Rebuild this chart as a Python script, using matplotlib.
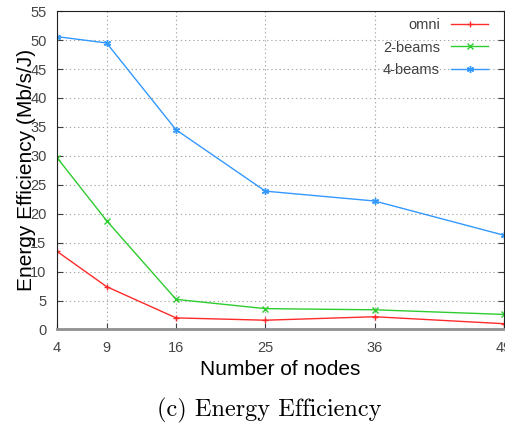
import numpy as np
import matplotlib.pyplot as plt

nodes = [4, 9, 16, 25, 36, 49]
omni = [13.5, 7.4, 2.0, 1.6, 2.2, 1.0]
beams2 = [29.7, 18.8, 5.2, 3.6, 3.4, 2.6]
beams4 = [50.6, 49.5, 34.5, 23.9, 22.2, 16.3]
yticks = np.arange(0, 56, 5)

plt.rcParams['font.family'] = ['Liberation Sans', 'DejaVu Sans']

fig = plt.figure(figsize=(5.06, 4.29), dpi=100)
ax = fig.add_axes([0.1126, 0.232, 0.8825, 0.742])

ax.plot(nodes, omni, color='#ff2a2a', lw=1, marker='+', ms=5, mew=1, label='omni')
ax.plot(nodes, beams2, color='#2ecc2e', lw=1, marker='x', ms=4, mew=1, label='2-beams')
ax.plot(nodes, beams4, color='#3399ff', lw=1, marker=(6, 2, 0), ms=5, mew=1, label='4-beams')

ax.set_xlim(4, 49)
ax.set_ylim(0, 55)
ax.set_xticks(nodes)
ax.set_yticks(yticks)
ax.tick_params(axis='both', labelsize=10.5, labelcolor='#454545', direction='in',
               length=4, color='#404040', right=True)
ax.tick_params(axis='x', pad=8)
ax.tick_params(axis='y', pad=7.5)
ax.grid(True, linestyle=(0, (1.2, 2.5)), color='#a8a8a8', lw=0.8)
for s in ax.spines.values():
    s.set_color('#202020')
ax.spines['bottom'].set_color('#909090')
ax.spines['bottom'].set_linewidth(2)

ax.set_xlabel('Number of nodes', fontsize=15, labelpad=4)
ax.set_ylabel('Energy Efficiency (Mb/s/J)', fontsize=15, labelpad=-4)

leg = ax.legend(loc='upper right', bbox_to_anchor=(0.965, 0.979), frameon=False,
                markerfirst=False, fontsize=10.5, handlelength=2.5, handletextpad=0.8,
                labelspacing=0.6, borderpad=0, borderaxespad=0)
for t in leg.get_texts():
    t.set_color('#404040')

fig.text(0.533, 0.044, '(c) Energy Efficiency', family='cmr10', fontsize=17.5,
         ha='center', va='center')

fig.savefig('out.png', dpi=100)
